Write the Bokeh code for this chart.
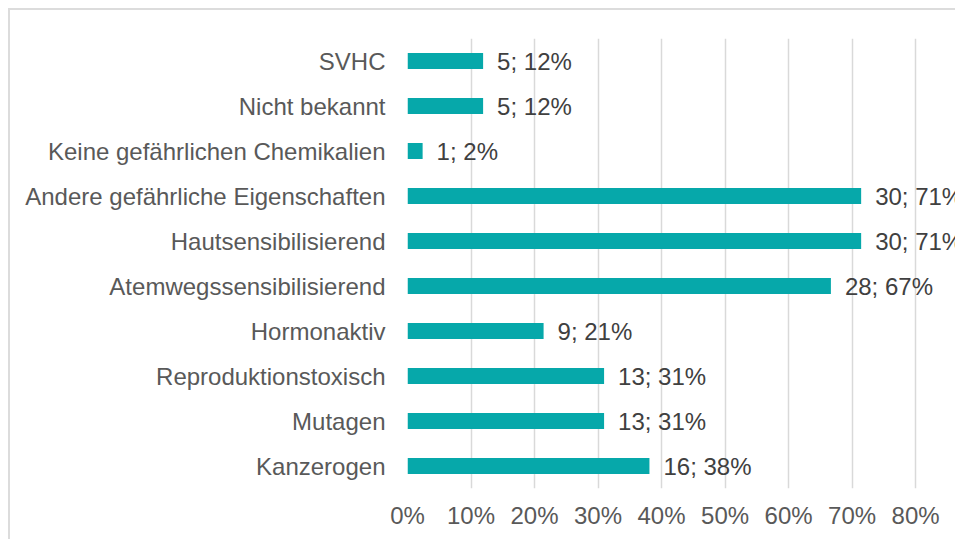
from bokeh.plotting import figure
from bokeh.models import Range1d, FactorRange, FixedTicker, NumeralTickFormatter, ColumnDataSource
from bokeh.core.properties import value
from bokeh.embed import file_html
from bokeh.resources import INLINE

# Data (top to bottom as shown)
categories = ["SVHC", "Nicht bekannt", "Keine gefährlichen Chemikalien",
              "Andere gefährliche Eigenschaften", "Hautsensibilisierend",
              "Atemwegssensibilisierend", "Hormonaktiv", "Reproduktionstoxisch",
              "Mutagen", "Kanzerogen"]
counts = [5, 5, 1, 30, 30, 28, 9, 13, 13, 16]
percents = [12, 12, 2, 71, 71, 67, 21, 31, 31, 38]
total = 42
x_ticks = [0, 0.1, 0.2, 0.3, 0.4, 0.5, 0.6, 0.7, 0.8]

shares = [c / total for c in counts]
labels = [f"{c}; {pc}%" for c, pc in zip(counts, percents)]
src = ColumnDataSource(dict(cat=categories, share=shares, label=labels))

FONT = "Liberation Sans"
BAR = "#06A8AA"

p = figure(width=947, height=531, output_backend="svg", toolbar_location=None,
           y_range=FactorRange(*list(reversed(categories)), range_padding=0),
           x_range=Range1d(0, 0.866),
           min_border_left=397, min_border_right=0, min_border_top=28, min_border_bottom=53)
p.styles = {"margin-left": "8px", "margin-top": "8px",
            "border-top": "2px solid #dcdcdc", "border-left": "2px solid #dcdcdc"}
p.outline_line_color = None

p.hbar(y="cat", right="share", left=0, height=0.36, source=src, color=BAR, line_color=None)
p.text(x="share", y="cat", text="label", source=src, x_offset=14, text_baseline="middle",
       text_align="left", text_font=value(FONT), text_font_size="24px", text_color="#404040")

p.xaxis.ticker = FixedTicker(ticks=x_ticks)
p.xaxis.formatter = NumeralTickFormatter(format="0%")
for ax in (p.xaxis[0], p.yaxis[0]):
    ax.axis_line_color = None
    ax.major_tick_line_color = None
    ax.minor_tick_line_color = None
    ax.major_tick_out = 0
    ax.minor_tick_out = 0
    ax.major_label_text_font = FONT
    ax.major_label_text_font_size = "24px"
    ax.major_label_text_color = "#595959"
p.xaxis.major_label_standoff = 13
p.yaxis.major_label_standoff = 22

p.ygrid.grid_line_color = None
p.xgrid.grid_line_color = "#d9d9d9"
p.xgrid.grid_line_width = 1.5

open("out.html", "w").write(file_html(p, INLINE))
